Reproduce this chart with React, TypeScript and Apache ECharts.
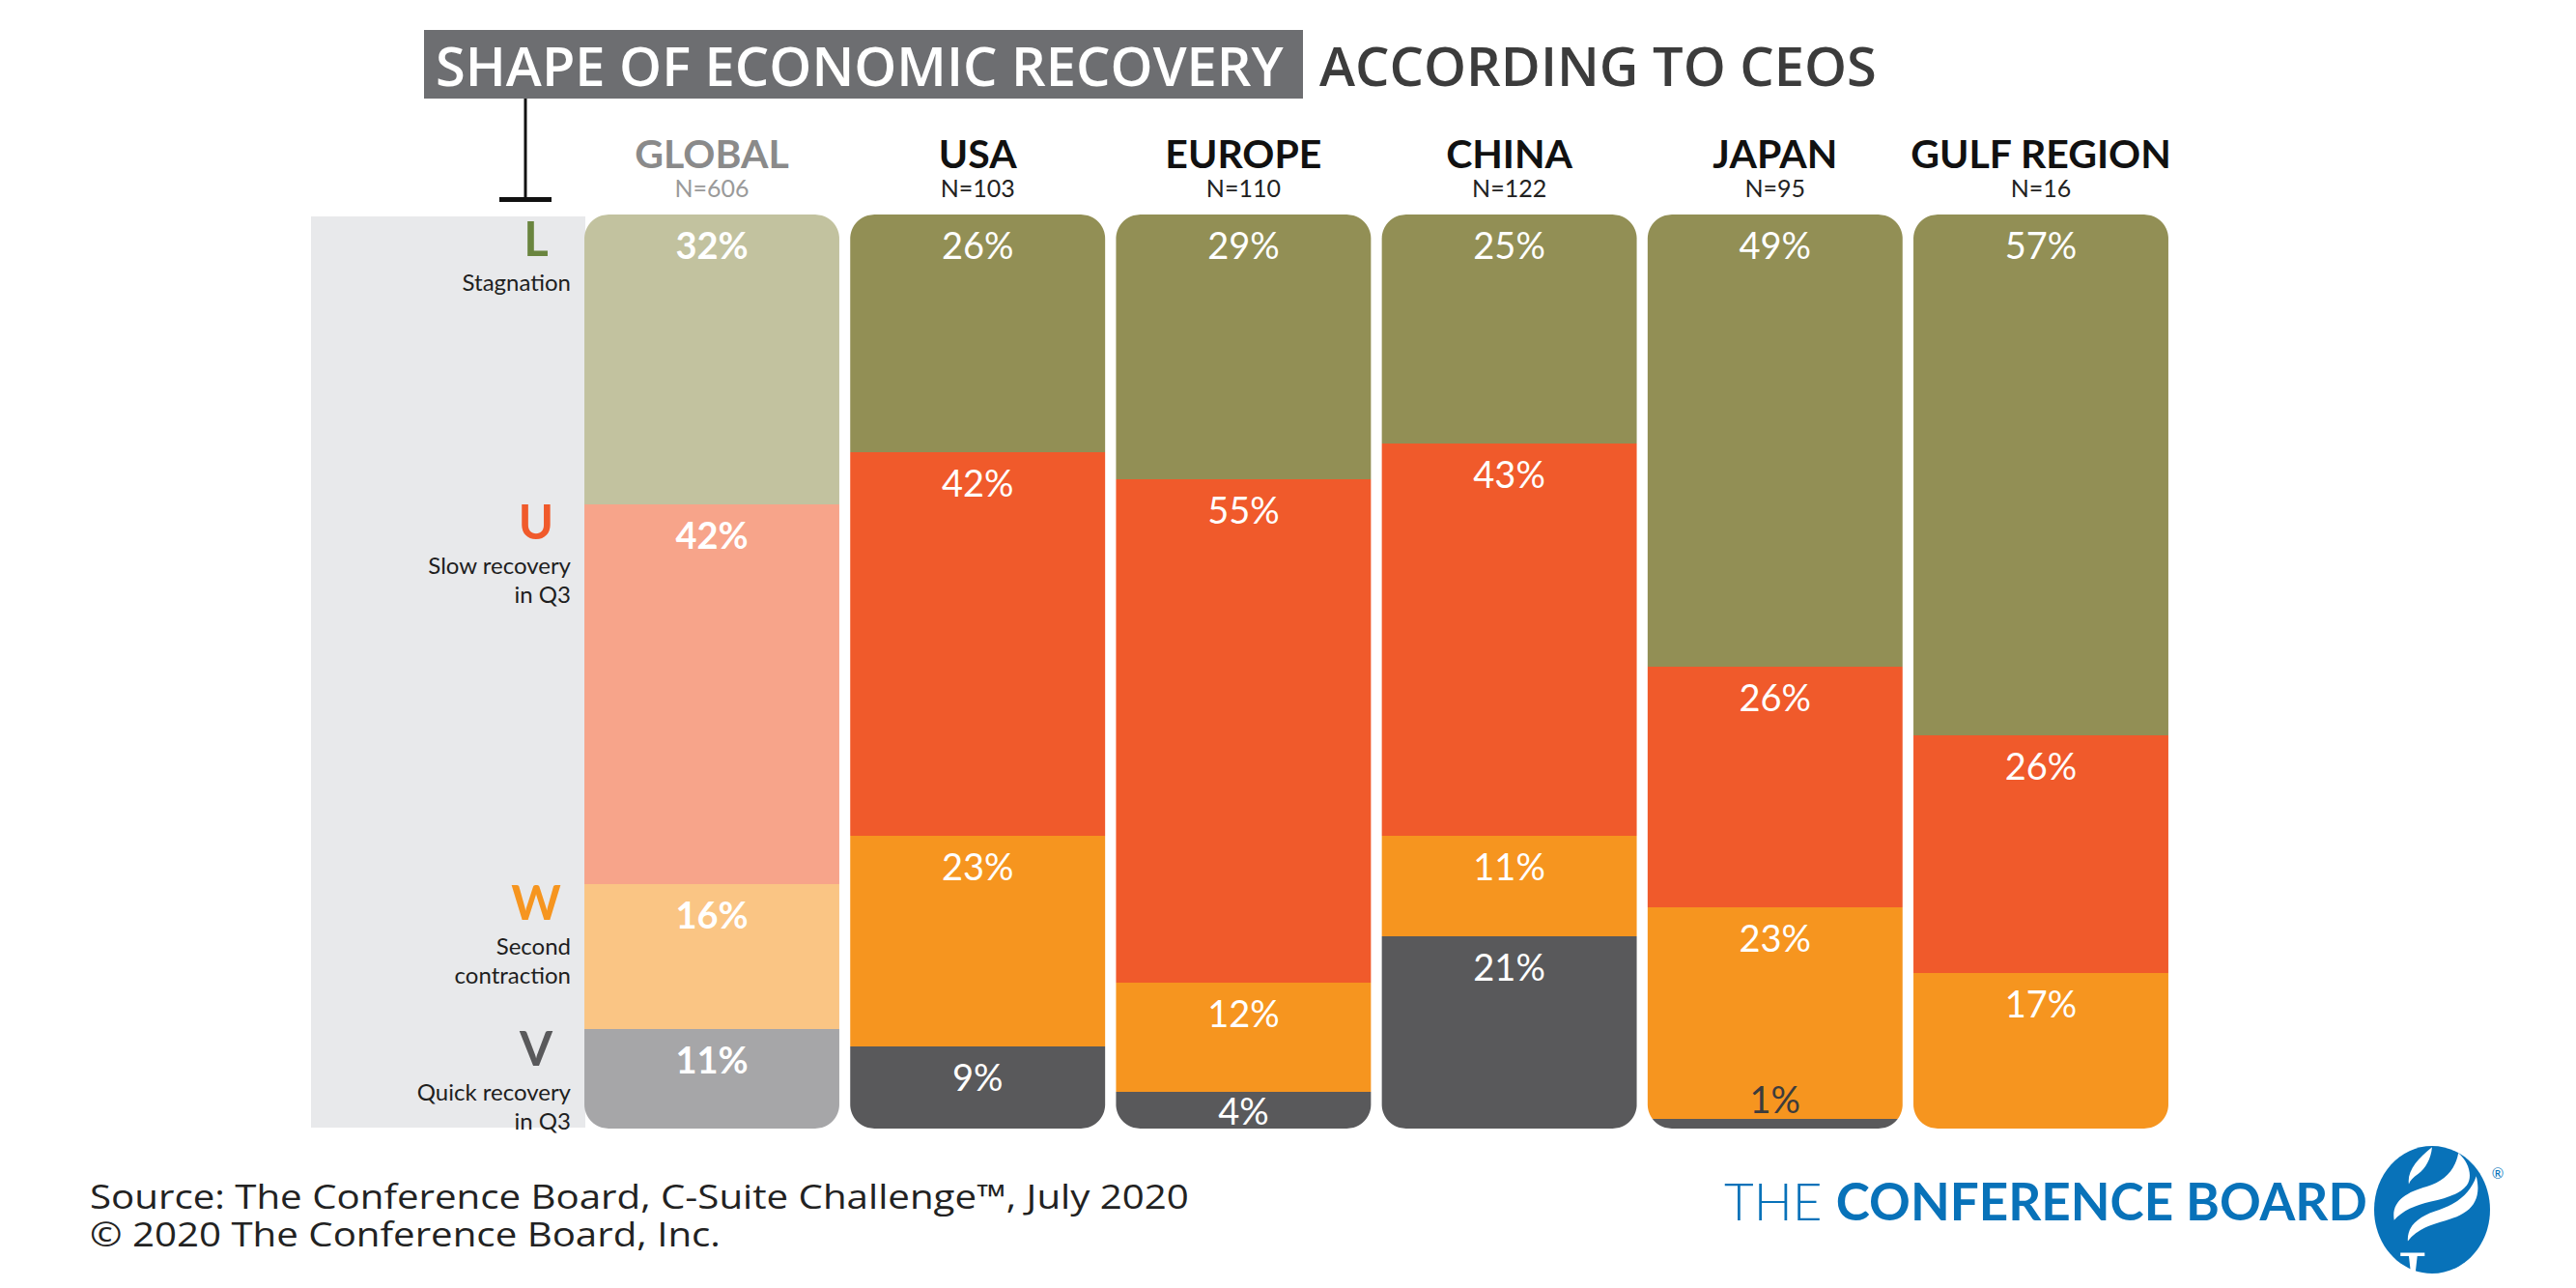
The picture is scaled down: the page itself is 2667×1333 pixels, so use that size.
import React, { useEffect, useRef } from "react";
import * as echarts from "echarts";

// ---------- DATA ----------
const regions = ["GLOBAL", "USA", "EUROPE", "CHINA", "JAPAN", "GULF REGION"];
const sampleSizes = ["N=606", "N=103", "N=110", "N=122", "N=95", "N=16"];
const shapeL = [32, 26, 29, 25, 49, 57];
const shapeU = [42, 42, 55, 43, 26, 26];
const shapeW = [16, 23, 12, 11, 23, 17];
const shapeV: (number | null)[] = [11, 9, 4, 21, 1, null];
const shapeLetters = ["L", "U", "W", "V"];
const shapeDescriptions = ["Stagnation", "Slow recovery\nin Q3", "Second\ncontraction", "Quick recovery\nin Q3"];

const globalColors = ["#C2C29F", "#F7A48A", "#FAC584", "#A6A6A8"];
const regionColors = ["#928F55", "#F05A2B", "#F6951F", "#59595B"];
const letterColors = ["#6A853F", "#F05A2B", "#F6951F", "#59595B"];

const torchPath =
  "M33 33 C31 22 41 11 55 1 C54 11 49 19 42 24 C37 27 34 30 33 33 Z " +
  "M19 64 C16 48 30 40 50 35 C66 31 77 21 80 6 C90 14 94 26 88 34 C81 42 68 45 54 48 C39 51 27 56 19 64 Z " +
  "M32 82 C31 68 44 60 62 55 C79 50 92 40 97 26 C101 40 97 50 88 56 C79 62 69 64 58 67 C47 70 38 75 32 82 Z " +
  "M25 92 L48 92 L48 95 L41 95 L39 111 L35 111 L33 95 L25 95 Z";
echarts.graphic.registerShape("torch", echarts.graphic.extendPath(torchPath, {}));

const FONT = "Lato";
const R = 25;

function buildSeriesData() {
  const series = [shapeL, shapeU, shapeW, shapeV];
  const out: number[][][] = [[], [], [], []];
  regions.forEach((_, i) => {
    const vals = series.map((s) => s[i]);
    const total = vals.reduce((a: number, b) => a + (b == null ? 0 : (b as number)), 0);
    let cum = 0;
    vals.forEach((v, k) => {
      if (v == null) return;
      const start = (cum / total) * 100;
      cum += v as number;
      const end = (cum / total) * 100;
      out[k].push([i, start, end, v as number]);
    });
  });
  return out;
}

function makeRenderer(k: number) {
  return (params: any, api: any) => {
    const cat = api.value(0);
    const s = api.value(1);
    const e = api.value(2);
    const raw = api.value(3);
    const topPt = api.coord([cat, 0]);
    const cx = topPt[0];
    const colTop = Math.round(topPt[1]);
    const colBot = Math.round(api.coord([cat, 100])[1]);
    const y0 = Math.round(api.coord([cat, s])[1]);
    const y1 = Math.round(api.coord([cat, e])[1]);
    const w = api.size([1, 0])[0] * 0.959;
    const x0 = cx - w / 2;
    const x1 = cx + w / 2;
    const inset = (y: number) => {
      if (y < colTop + R) {
        const d = colTop + R - y;
        return R - Math.sqrt(Math.max(0, R * R - d * d));
      }
      if (y > colBot - R) {
        const d = y - (colBot - R);
        return R - Math.sqrt(Math.max(0, R * R - d * d));
      }
      return 0;
    };
    const ys: number[] = [y0];
    for (let y = y0 + 1; y < y1; y++) {
      if (y <= colTop + R || y >= colBot - R) ys.push(y);
    }
    ys.push(y1);
    const pts: number[][] = [];
    ys.forEach((y) => pts.push([x0 + inset(y), y]));
    for (let j = ys.length - 1; j >= 0; j--) pts.push([x1 - inset(ys[j]), ys[j]]);
    const isGlobal = cat === 0;
    const color = isGlobal ? globalColors[k] : regionColors[k];
    const h = y1 - y0;
    let ty = y0 + 31;
    let tfill = "#FFFFFF";
    if (h < 20) {
      ty = y0 - 21;
      tfill = "#3C3C3C";
    } else if (h < 62) {
      ty = (y0 + y1) / 2;
    }
    return {
      type: "group",
      children: [
        { type: "polygon", shape: { points: pts }, style: { fill: color } },
        {
          type: "text",
          z2: 10,
          style: {
            text: raw + "%",
            x: cx,
            y: ty,
            fill: tfill,
            fontSize: 38,
            lineHeight: 38,
            fontFamily: FONT,
            fontWeight: isGlobal ? "bold" : "normal",
            align: "center",
            verticalAlign: "middle",
          },
        },
      ],
    };
  };
}

export default function App() {
  const ref = useRef<HTMLDivElement>(null);
  useEffect(() => {
    document.body.style.margin = "0";
    const chart = echarts.init(ref.current!, null, { renderer: "svg" });
    const data = buildSeriesData();

    const letterY = [246, 539, 933, 1084];
    const letterCenterX = 555;
    const descRight = 591;

    const graphic: any[] = [
      { type: "rect", z: 0, shape: { x: 322, y: 224, width: 284, height: 943 }, style: { fill: "#E8E9EB" } },
      { type: "rect", z: 0, shape: { x: 439, y: 31, width: 910, height: 71 }, style: { fill: "#6D6E71" } },
      {
        type: "text", z: 1, x: 451, y: 67,
        style: { text: "SHAPE OF ECONOMIC RECOVERY", fill: "#FFFFFF", fontSize: 56, lineHeight: 56, fontWeight: 600, fontFamily: "Open Sans", align: "left", verticalAlign: "middle" },
      },
      {
        type: "text", z: 1, x: 1366, y: 67,
        style: { text: "ACCORDING TO CEOS", fill: "#3C3C3C", fontSize: 56, lineHeight: 56, fontWeight: 600, fontFamily: "Open Sans", align: "left", verticalAlign: "middle" },
      },
      { type: "line", z: 1, shape: { x1: 544, y1: 102, x2: 544, y2: 207 }, style: { stroke: "#111", lineWidth: 3 } },
      { type: "rect", z: 1, shape: { x: 517, y: 204, width: 54, height: 5 }, style: { fill: "#111" } },
      {
        type: "text", z: 1, x: 93, y: 1218, scaleX: 1.15, scaleY: 1,
        style: {
          text: "Source: The Conference Board, C-Suite Challenge™, July 2020\n© 2020 The Conference Board, Inc.",
          fill: "#222", fontSize: 35, lineHeight: 39, fontFamily: "Open Sans", align: "left", verticalAlign: "top",
        },
      },
      {
        type: "text", z: 1, x: 1785, y: 1242,
        style: {
          text: "{t|THE }{b|CONFERENCE BOARD}",
          fill: "#0872B9",
          align: "left",
          verticalAlign: "middle",
          rich: {
            t: { fontSize: 53, fontFamily: FONT, fontWeight: 300, fill: "#0872B9" },
            b: { fontSize: 53, fontFamily: FONT, fontWeight: "bold", fill: "#0872B9" },
          },
        },
      },
      { type: "ellipse", z: 1, shape: { cx: 2518, cy: 1252, rx: 60, ry: 66 }, style: { fill: "#0872B9" } },
      { type: "torch", z: 2, x: 2458, y: 1186, scaleX: 1.09, scaleY: 1.2, style: { fill: "#FFFFFF" } },
      {
        type: "text", z: 1, x: 2586, y: 1214,
        style: { text: "®", fill: "#0872B9", fontSize: 15, fontFamily: FONT, align: "center", verticalAlign: "middle" },
      },
    ];
    shapeLetters.forEach((l, k) => {
      graphic.push({
        type: "text", z: 1, x: letterCenterX, y: letterY[k],
        style: { text: l, fill: letterColors[k], fontSize: 49, lineHeight: 40, fontWeight: "bold", fontFamily: FONT, align: "center", verticalAlign: "middle" },
      });
      graphic.push({
        type: "text", z: 1, x: descRight, y: letterY[k] + 30,
        style: { text: shapeDescriptions[k], fill: "#1E1E1E", fontSize: 24, lineHeight: 30, fontFamily: FONT, align: "right", verticalAlign: "top" },
      });
    });

    const option: any = {
      animation: false,
      backgroundColor: "#FFFFFF",
      grid: { left: 599.4, right: 416.4, top: 222, bottom: 165, containLabel: false },
      xAxis: {
        type: "category",
        position: "top",
        data: regions,
        axisLine: { show: false },
        axisTick: { show: false },
        splitLine: { show: false },
        axisLabel: {
          interval: 0,
          margin: 12,
          formatter: (v: string, i: number) =>
            i === 0 ? `{gname|${v}}\n{gn|${sampleSizes[i]}}` : `{name|${v}}\n{n|${sampleSizes[i]}}`,
          rich: {
            name: { fontSize: 41, fontWeight: "bold", fontFamily: FONT, color: "#111111", lineHeight: 40, align: "center" },
            n: { fontSize: 25, fontFamily: FONT, color: "#222222", lineHeight: 32, align: "center" },
            gname: { fontSize: 41, fontWeight: "bold", fontFamily: FONT, color: "#8A8A8A", lineHeight: 40, align: "center" },
            gn: { fontSize: 25, fontFamily: FONT, color: "#9A9A9A", lineHeight: 32, align: "center" },
          },
        },
      },
      yAxis: { type: "value", inverse: true, min: 0, max: 100, show: false },
      graphic,
      series: data.map((d, k) => ({
        type: "custom",
        name: shapeLetters[k],
        z: 3,
        silent: true,
        renderItem: makeRenderer(k),
        encode: { x: 0, y: [1, 2] },
        data: d,
      })),
    };
    chart.setOption(option);
    return () => chart.dispose();
  }, []);
  return <div ref={ref} style={{ width: 2667, height: 1333, position: "absolute", left: 0, top: 0 }} />;
}
